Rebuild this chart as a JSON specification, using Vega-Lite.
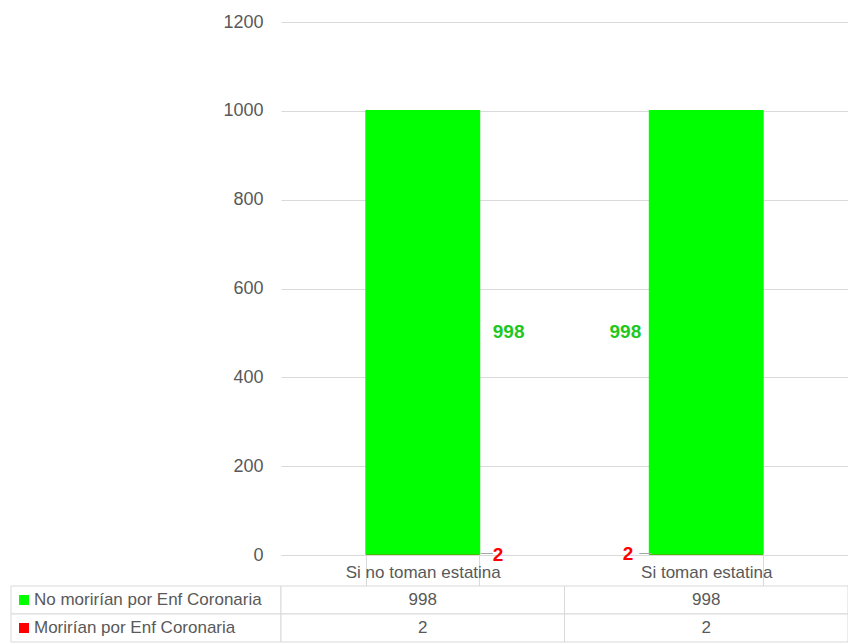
{
  "$schema": "https://vega.github.io/schema/vega-lite/v6.json",
  "padding": {"left": 10, "top": 13, "right": 0, "bottom": 0},
  "background": "white",
  "datasets": {
    "main": [
      {"grupo": "Si no toman estatina", "serie": "No morirían por Enf Coronaria", "valor": 998},
      {"grupo": "Si no toman estatina", "serie": "Morirían por Enf Coronaria", "valor": 2},
      {"grupo": "Si toman estatina", "serie": "No morirían por Enf Coronaria", "valor": 998},
      {"grupo": "Si toman estatina", "serie": "Morirían por Enf Coronaria", "valor": 2}
    ]
  },
  "columns": 2,
  "align": "each",
  "bounds": "flush",
  "spacing": {"row": 31, "column": 0},
  "concat": [
    {
      "width": 270,
      "height": 533,
      "data": {"values": []},
      "mark": {"type": "text", "opacity": 0}
    },
    {
      "width": 567,
      "height": 533,
      "data": {"name": "main"},
      "transform": [
        {"stack": "valor", "groupby": ["grupo"], "sort": [{"field": "serie", "order": "ascending"}], "as": ["v0", "v1"]},
        {"calculate": "(datum.v0 + datum.v1) / 2", "as": "medio"}
      ],
      "encoding": {
        "x": {
          "field": "grupo", "type": "nominal", "sort": null,
          "scale": {"paddingInner": 0.6, "paddingOuter": 0.3},
          "axis": {
            "title": null, "tickBand": "extent", "tickSize": 31, "tickColor": "#d9d9d9",
            "domainColor": "#d9d9d9", "labelFontSize": 17, "labelColor": "#595959",
            "labelPadding": -22, "labelAngle": 0, "grid": false, "labelLimit": 0
          }
        }
      },
      "layer": [
        {
          "mark": {"type": "bar", "strokeWidth": 1.5},
          "encoding": {
            "y": {
              "field": "v0", "type": "quantitative", "scale": {"domain": [0, 1200]},
              "axis": {
                "title": null, "values": [0, 200, 400, 600, 800, 1000, 1200], "format": "d",
                "domain": false, "ticks": false, "labelPadding": 18, "labelFontSize": 18,
                "labelColor": "#595959", "gridColor": "#d9d9d9"
              }
            },
            "y2": {"field": "v1"},
            "color": {
              "field": "serie", "type": "nominal",
              "scale": {"domain": ["No morirían por Enf Coronaria", "Morirían por Enf Coronaria"], "range": ["#00ff00", "#ff0000"]},
              "legend": null
            },
            "stroke": {"condition": {"test": "datum.serie == 'No morirían por Enf Coronaria'", "value": "#00ff00"}, "value": null},
            "order": {"field": "serie", "sort": "ascending"}
          }
        },
        {
          "transform": [{"filter": "datum.grupo == 'Si no toman estatina'"}],
          "mark": {"type": "text", "align": "left", "baseline": "middle", "dx": 70, "fontSize": 19, "fontWeight": "bold"},
          "encoding": {
            "y": {"field": "medio", "type": "quantitative"},
            "text": {"field": "valor"},
            "color": {"condition": {"test": "datum.serie == 'Morirían por Enf Coronaria'", "value": "#ff0000"}, "value": "#1fc71f"}
          }
        },
        {
          "transform": [{"filter": "datum.grupo == 'Si toman estatina' && datum.serie == 'No morirían por Enf Coronaria'"}],
          "mark": {"type": "text", "align": "right", "baseline": "middle", "dx": -65, "fontSize": 19, "fontWeight": "bold", "color": "#1fc71f"},
          "encoding": {
            "y": {"field": "medio", "type": "quantitative"},
            "text": {"field": "valor"}
          }
        },
        {
          "transform": [{"filter": "datum.grupo == 'Si toman estatina' && datum.serie == 'Morirían por Enf Coronaria'"}],
          "mark": {"type": "text", "align": "right", "baseline": "middle", "dx": -73, "dy": -1, "fontSize": 19, "fontWeight": "bold", "color": "#ff0000"},
          "encoding": {
            "y": {"field": "medio", "type": "quantitative"},
            "text": {"field": "valor"}
          }
        },
        {
          "transform": [{"filter": "datum.grupo == 'Si no toman estatina' && datum.serie == 'Morirían por Enf Coronaria'"}],
          "mark": {"type": "text", "align": "center", "baseline": "middle", "dx": 64, "dy": -2, "fontSize": 12, "color": "#a6a6a6"},
          "encoding": {
            "y": {"field": "medio", "type": "quantitative"},
            "text": {"value": "—"}
          }
        },
        {
          "transform": [{"filter": "datum.grupo == 'Si toman estatina' && datum.serie == 'Morirían por Enf Coronaria'"}],
          "mark": {"type": "text", "align": "center", "baseline": "middle", "dx": -61, "dy": -2, "fontSize": 12, "color": "#a6a6a6"},
          "encoding": {
            "y": {"field": "medio", "type": "quantitative"},
            "text": {"value": "—"}
          }
        }
      ]
    },
    {
      "width": 270,
      "height": 56,
      "data": {"name": "main"},
      "transform": [{"filter": "datum.grupo == 'Si no toman estatina'"}],
      "encoding": {
        "x": {"field": "grupo", "type": "nominal", "scale": {"paddingInner": 0, "paddingOuter": 0}, "axis": null},
        "y": {"field": "serie", "type": "nominal", "sort": ["No morirían por Enf Coronaria", "Morirían por Enf Coronaria"], "scale": {"paddingInner": 0, "paddingOuter": 0}, "axis": null}
      },
      "layer": [
        {"mark": {"type": "rect", "fill": "white", "stroke": "#d9d9d9", "strokeWidth": 1}},
        {
          "mark": {"type": "point", "shape": "square", "filled": true, "size": 100, "xOffset": 13, "opacity": 1},
          "encoding": {
            "x": {"field": "grupo", "type": "nominal", "bandPosition": 0},
            "color": {
              "field": "serie", "type": "nominal",
              "scale": {"domain": ["No morirían por Enf Coronaria", "Morirían por Enf Coronaria"], "range": ["#00ff00", "#ff0000"]},
              "legend": null
            }
          }
        },
        {
          "mark": {"type": "text", "align": "left", "baseline": "middle", "dx": 23, "fontSize": 17, "color": "#595959"},
          "encoding": {
            "x": {"field": "grupo", "type": "nominal", "bandPosition": 0},
            "text": {"field": "serie"}
          }
        }
      ]
    },
    {
      "width": 567,
      "height": 56,
      "data": {"name": "main"},
      "encoding": {
        "x": {"field": "grupo", "type": "nominal", "sort": null, "scale": {"paddingInner": 0, "paddingOuter": 0}, "axis": null},
        "y": {"field": "serie", "type": "nominal", "sort": ["No morirían por Enf Coronaria", "Morirían por Enf Coronaria"], "scale": {"paddingInner": 0, "paddingOuter": 0}, "axis": null}
      },
      "layer": [
        {"mark": {"type": "rect", "fill": "white", "stroke": "#d9d9d9", "strokeWidth": 1}},
        {
          "mark": {"type": "text", "baseline": "middle", "fontSize": 17, "color": "#595959"},
          "encoding": {"text": {"field": "valor"}}
        }
      ]
    }
  ],
  "config": {
    "font": "Liberation Sans",
    "view": {"stroke": null}
  }
}
